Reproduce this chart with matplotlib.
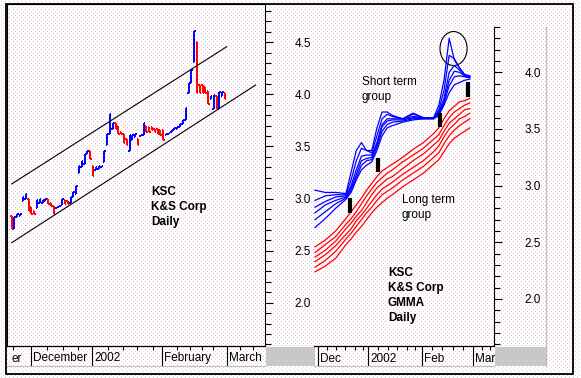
import matplotlib
matplotlib.use("Agg")
import matplotlib.pyplot as plt
from matplotlib.patches import Ellipse, Rectangle
from matplotlib.ticker import MultipleLocator, FixedLocator, NullFormatter
import matplotlib.transforms as mtransforms
import numpy as np

plt.rcParams['font.family'] = ['Liberation Sans', 'DejaVu Sans']

W, H, DPI = 581, 378, 100
BLUE = '#0000ff'
RED = '#ff0000'

# ---------------- left panel : daily price bars ----------------
bar_high = [2.83, 2.82, 2.85, 2.85, 3.01, 3.04, 3.00, 2.92, 2.88, 2.99,
            3.00, 2.99, 3.00, 3.00, 2.96, 2.93, 2.92, 2.93, 3.00, 2.99,
            2.98, 3.01, 3.06, 3.12, 3.31, 3.36, 3.43, 3.46, 3.46, 3.31,
            3.30, 3.31, 3.31, 3.46, 3.62, 3.81, 3.73, 3.73, 3.70, 3.64,
            3.62, 3.57, 3.61, 3.61, 3.62, 3.57, 3.61, 3.73, 3.70, 3.69,
            3.69, 3.67, 3.67, 3.66, 3.66, 3.62, 3.63, 3.66, 3.68, 3.69,
            3.72, 3.75, 3.87, 4.11, 4.23, 4.61, 4.50, 4.09, 4.09, 4.07,
            4.03, 3.98, 3.99, 3.98, 4.02, 4.02, 4.01]
bar_low = [2.71, 2.71, 2.82, 2.83, 2.98, 3.00, 2.88, 2.85, 2.85, 2.91,
           2.96, 2.96, 2.98, 2.95, 2.93, 2.85, 2.91, 2.92, 2.94, 2.95,
           2.95, 2.96, 3.01, 3.04, 3.25, 3.30, 3.33, 3.43, 3.38, 3.22,
           3.27, 3.28, 3.30, 3.35, 3.51, 3.62, 3.67, 3.67, 3.62, 3.62,
           3.53, 3.51, 3.46, 3.56, 3.59, 3.51, 3.60, 3.61, 3.64, 3.64,
           3.66, 3.64, 3.62, 3.61, 3.56, 3.61, 3.62, 3.64, 3.66, 3.67,
           3.69, 3.72, 3.75, 4.01, 4.11, 4.31, 4.01, 4.01, 4.01, 4.01,
           3.91, 3.96, 3.86, 3.86, 3.86, 3.98, 3.96]
bar_dir = list("rbbbbbrrrbbbbrrrbbbrrbbbbbbbrrbbbbbbbrrr"
               "rrbbbrbbrrrrrrrbbbbbbbbbbbrrrrrbbrbbr")

channel_upper = [(0, 3.14), (76.6, 4.458)]
channel_lower = [(0, 2.576), (86.9, 4.09)]

left_month_pos = [6.88, 28.61, 53.55, 76.7]
left_month_lab = ['December', '2002', 'February', 'March']
left_minor_pos = [0.46, 12.58, 18.28, 23.62, 34.31, 39.65, 44.64, 50.34,
                  58.89, 63.52, 67.8, 71.72, 81.3, 85.9]
left_yticks = [2.0, 2.5, 3.0, 3.5, 4.0, 4.5]

# ---------------- right panel : GMMA ----------------
gmma_days = [0, 4, 8, 12, 14, 16, 18, 20, 22, 24, 26, 28, 30, 34, 38, 42,
             46, 48, 50, 52, 54, 56, 58, 60]
ema3 = [2.96, 2.94, 2.94, 2.93, 3.12, 3.31, 3.38, 3.31, 3.31, 3.51, 3.65, 3.65,
        3.62, 3.59, 3.64, 3.60, 3.60, 3.71, 3.93, 4.30, 4.11, 4.04, 3.97, 3.96]
ema5 = [2.87, 2.91, 2.92, 2.92, 3.05, 3.22, 3.33, 3.31, 3.29, 3.44, 3.59, 3.63,
        3.61, 3.59, 3.63, 3.60, 3.60, 3.67, 3.84, 4.15, 4.12, 4.04, 3.98, 3.97]
ema8 = [2.81, 2.86, 2.90, 2.91, 3.00, 3.14, 3.26, 3.27, 3.27, 3.38, 3.54, 3.59,
        3.59, 3.59, 3.61, 3.60, 3.60, 3.65, 3.77, 4.00, 4.06, 4.02, 3.98, 3.96]
ema10 = [2.76, 2.83, 2.87, 2.90, 2.98, 3.10, 3.22, 3.24, 3.25, 3.36, 3.52, 3.57,
         3.58, 3.58, 3.60, 3.60, 3.60, 3.64, 3.74, 3.93, 4.01, 4.00, 3.97, 3.96]
ema12 = [2.70, 2.77, 2.84, 2.89, 2.96, 3.07, 3.18, 3.22, 3.23, 3.34, 3.48, 3.54,
         3.56, 3.57, 3.59, 3.59, 3.59, 3.63, 3.73, 3.88, 3.96, 3.97, 3.96, 3.95]
ema15 = [2.63, 2.71, 2.80, 2.88, 2.94, 3.05, 3.14, 3.18, 3.21, 3.31, 3.44, 3.51,
         3.53, 3.56, 3.58, 3.59, 3.59, 3.62, 3.71, 3.82, 3.89, 3.91, 3.93, 3.94]
ema30 = [2.46, 2.52, 2.60, 2.71, 2.77, 2.83, 2.89, 2.96, 3.02, 3.08, 3.13, 3.16,
         3.19, 3.25, 3.32, 3.38, 3.46, 3.51, 3.59, 3.66, 3.70, 3.74, 3.75, 3.77]
ema35 = [2.41, 2.48, 2.55, 2.66, 2.71, 2.77, 2.84, 2.91, 2.97, 3.03, 3.07, 3.11,
         3.14, 3.21, 3.27, 3.33, 3.41, 3.45, 3.53, 3.60, 3.65, 3.68, 3.71, 3.73]
ema40 = [2.37, 2.43, 2.51, 2.62, 2.67, 2.73, 2.78, 2.85, 2.92, 2.98, 3.02, 3.06,
         3.08, 3.15, 3.22, 3.28, 3.36, 3.40, 3.48, 3.55, 3.59, 3.63, 3.67, 3.68]
ema45 = [2.33, 2.39, 2.47, 2.57, 2.62, 2.69, 2.74, 2.80, 2.86, 2.92, 2.97, 3.00,
         3.03, 3.10, 3.16, 3.22, 3.30, 3.35, 3.43, 3.50, 3.54, 3.59, 3.61, 3.64]
ema50 = [2.28, 2.34, 2.42, 2.53, 2.58, 2.64, 2.70, 2.76, 2.81, 2.87, 2.92, 2.95,
         2.98, 3.05, 3.11, 3.17, 3.25, 3.29, 3.37, 3.44, 3.49, 3.53, 3.56, 3.59]
ema60 = [2.24, 2.29, 2.36, 2.48, 2.53, 2.59, 2.64, 2.70, 2.76, 2.81, 2.85, 2.89,
         2.92, 2.99, 3.05, 3.11, 3.19, 3.23, 3.30, 3.37, 3.42, 3.45, 3.48, 3.51]
short_group = [ema3, ema5, ema8, ema10, ema12, ema15]
long_group = [ema30, ema35, ema40, ema45, ema50, ema60]

mark_days = [13.6, 24.4, 48.4, 59.3]
mark_low = [2.758, 3.120, 3.518, 3.782]
mark_high = [2.891, 3.244, 3.641, 3.914]
circle_center = (53.7, 4.21)
circle_size = (10.5, 0.30)

right_month_pos = [1.16, 20.54, 41.47, 61.24]
right_month_lab = ['Dec', '2002', 'Feb', 'Mar']
right_minor_pos = [4.8, 8.1, 11.6, 15.5, 18.7, 24.5, 28.4, 31.9, 35.5, 38.8,
                   45.2, 49.1, 53.4, 57.5, 64.6, 67.8]
right_yticks = [2.0, 2.5, 3.0, 3.5, 4.0]


def rect(x0, y0, x1, y1):
    return [x0 / W, 1 - y1 / H, (x1 - x0) / W, (y1 - y0) / H]


fig = plt.figure(figsize=(W / DPI, H / DPI), dpi=DPI)
fig.patch.set_facecolor('white')

# background / frame layer in pixel coordinates
axbg = fig.add_axes([0, 0, 1, 1], zorder=0)
axbg.set_xlim(0, W)
axbg.set_ylim(H, 0)
axbg.axis('off')
yy, xx = np.mgrid[0:H, 0:W]
pattern = np.ones((H, W, 3))
pattern[(xx % 4 == 1) & (yy % 4 == 1)] = [0.80, 0.80, 0.80]
pattern[(xx % 4 == 3) & (yy % 4 == 3)] = [1.0, 0.76, 0.90]
axbg.imshow(pattern, extent=(0, W, H, 0), interpolation='nearest', aspect='auto',
            zorder=0)
axbg.set_xlim(0, W)
axbg.set_ylim(H, 0)
axbg.add_patch(Rectangle((266, 347), 49, 19, fc='#c8c8c8', ec='none', zorder=1))
axbg.add_patch(Rectangle((495, 347), 52, 19, fc='#c8c8c8', ec='none', zorder=1))
axbg.plot([546, 546], [27, 366], color='#c0c0c0', lw=1, zorder=1)
axbg.add_patch(Rectangle((6, 4), 567, 370, fill=False, ec='black', lw=1.3, zorder=2))


def ptext(x, y, s, **kw):
    axbg.text(x, y, s, va='center', ha='left', zorder=3, **kw)


# ---- left price chart
axL = fig.add_axes(rect(7, 4, 265, 346), zorder=2)
axL.set_facecolor('none')
axL.set_xlim(-1.67, 90.24)
axL.set_ylim(1.584, 4.868)
x = np.arange(len(bar_high))
cols = [BLUE if d == 'b' else RED for d in bar_dir]
closes = [h if d == 'b' else l for h, l, d in zip(bar_high, bar_low, bar_dir)]
opens = [l if d == 'b' else h for h, l, d in zip(bar_high, bar_low, bar_dir)]
axL.vlines(x, bar_low, bar_high, colors=cols, lw=1.4)
axL.hlines(closes, x, x + 0.5, colors=cols, lw=1.4)
axL.hlines(opens, x - 0.5, x, colors=cols, lw=1.4)
for seg in (channel_upper, channel_lower):
    axL.plot([seg[0][0], seg[1][0]], [seg[0][1], seg[1][1]], color='black', lw=0.8)
axL.yaxis.tick_right()
axL.set_yticks(left_yticks)
axL.set_yticklabels([f'{v:.1f}' for v in left_yticks])
axL.yaxis.set_minor_locator(MultipleLocator(0.1))
axL.tick_params(axis='y', which='major', direction='out', length=5.5, width=0.8,
                pad=16, labelsize=8.5)
axL.tick_params(axis='y', which='minor', direction='out', length=4.5, width=0.8)
axL.set_xticks([])
for s in ('left', 'top', 'right', 'bottom'):
    axL.spines[s].set_linewidth(0.8)

# ---- left date axis
axLd = fig.add_axes(rect(7, 346, 265, 366), zorder=2)
axLd.set_facecolor('none')
axLd.set_xlim(-1.67, 90.24)
axLd.set_ylim(0, 1)
axLd.set_yticks([])
axLd.xaxis.set_ticks_position('top')
axLd.xaxis.set_major_locator(FixedLocator(left_minor_pos))
axLd.xaxis.set_major_formatter(NullFormatter())
axLd.tick_params(axis='x', direction='in', length=3, width=0.8)
for s in ('left', 'right'):
    axLd.spines[s].set_visible(False)
axLd.spines['top'].set_linewidth(0.8)
axLd.spines['bottom'].set_color('#c0c0c0')
axLd.vlines(left_month_pos, 0, 1, colors='black', lw=0.8)
off = mtransforms.offset_copy(axLd.transData, fig=fig, x=2, y=0, units='dots')
for p, lab in zip(left_month_pos, left_month_lab):
    axLd.text(p, 0.38, lab, transform=off, ha='left', va='center', fontsize=8.5)
ptext(11, 358.5, 'er', fontsize=8.5)

axL.text((151 - 7) / 258, 1 - (192 - 4) / 342, 'KSC', transform=axL.transAxes,
         fontsize=8.5, fontweight='bold', va='center')
axL.text((151 - 7) / 258, 1 - (207 - 4) / 342, 'K&S Corp', transform=axL.transAxes,
         fontsize=8.5, fontweight='bold', va='center')
axL.text((151 - 7) / 258, 1 - (222 - 4) / 342, 'Daily', transform=axL.transAxes,
         fontsize=8.5, fontweight='bold', va='center')

# ---- right GMMA chart
axR = fig.add_axes(rect(314, 27, 494, 346), zorder=2)
axR.set_facecolor('none')
axR.set_xlim(-0.39, 69.38)
axR.set_ylim(1.585, 4.400)
for line in long_group:
    axR.plot(gmma_days, line, color=RED, lw=0.9)
for line in short_group:
    axR.plot(gmma_days, line, color=BLUE, lw=0.9)
axR.vlines(mark_days, mark_low, mark_high, colors='black', lw=3.0)
axR.add_patch(Ellipse(circle_center, circle_size[0], circle_size[1], fill=False,
                      ec='black', lw=0.8))
axR.yaxis.tick_right()
axR.set_yticks(right_yticks)
axR.set_yticklabels([f'{v:.1f}' for v in right_yticks])
axR.yaxis.set_minor_locator(MultipleLocator(0.1))
axR.tick_params(axis='y', which='major', direction='out', length=6, width=0.8,
                pad=16, labelsize=8.5)
axR.tick_params(axis='y', which='minor', direction='out', length=4.5, width=0.8)
axR.set_xticks([])
for s in ('left', 'top'):
    axR.spines[s].set_visible(False)
for s in ('right', 'bottom'):
    axR.spines[s].set_linewidth(0.8)

axRd = fig.add_axes(rect(314, 346, 494, 366), zorder=2)
axRd.set_facecolor('none')
axRd.set_xlim(-0.39, 69.38)
axRd.set_ylim(0, 1)
axRd.set_yticks([])
axRd.xaxis.set_ticks_position('top')
axRd.xaxis.set_major_locator(FixedLocator(right_minor_pos))
axRd.xaxis.set_major_formatter(NullFormatter())
axRd.tick_params(axis='x', direction='in', length=3, width=0.8)
for s in ('left', 'right'):
    axRd.spines[s].set_visible(False)
axRd.spines['top'].set_linewidth(0.8)
axRd.spines['bottom'].set_color('#c0c0c0')
axRd.vlines(right_month_pos, 0, 1, colors='black', lw=0.8)
offR = mtransforms.offset_copy(axRd.transData, fig=fig, x=2, y=0, units='dots')
for p, lab in zip(right_month_pos, right_month_lab):
    axRd.text(p, 0.36, lab, transform=offR, ha='left', va='center', fontsize=8.5)

ptext(362, 82, 'Short term', fontsize=8.5)
ptext(362, 97, 'group', fontsize=8.5)
ptext(402, 200, 'Long term', fontsize=8.5)
ptext(402, 215, 'group', fontsize=8.5)
for yv, s in zip([273, 288, 303, 318], ['KSC', 'K&S Corp', 'GMMA', 'Daily']):
    ptext(388, yv, s, fontsize=8.5, fontweight='bold')

fig.savefig('out.png', dpi=DPI)
